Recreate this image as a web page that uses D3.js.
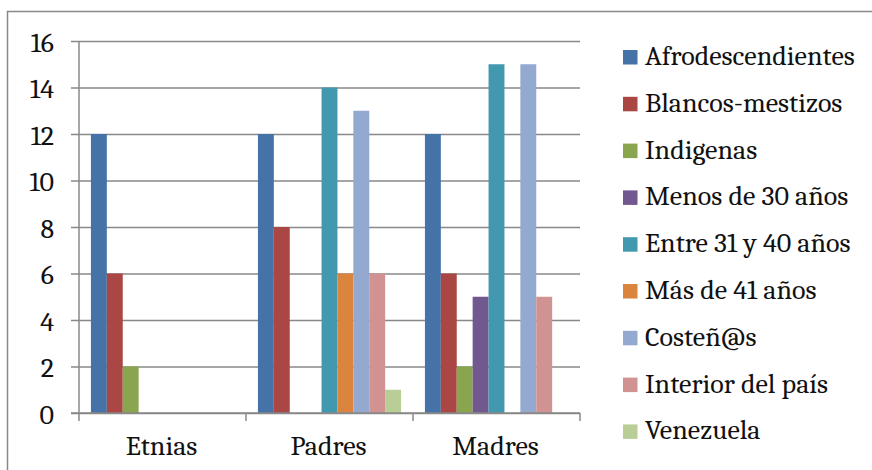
<!DOCTYPE html>
<html>
<head>
<meta charset="utf-8">
<script src="https://cdn.jsdelivr.net/npm/d3@7"></script>
<style>
  html, body { margin: 0; padding: 0; background: #fff; }
  svg { display: block; }
</style>
</head>
<body>
<svg id="chart" width="872" height="470"></svg>
<script>
// Groups along the x axis
const categories = ["Etnias", "Padres", "Madres"];

// One series per legend entry
const seriesNames = [
  "Afrodescendientes", "Blancos-mestizos", "Indigenas", "Menos de 30 años",
  "Entre 31 y 40 años", "Más de 41 años", "Costeñ@s", "Interior del país", "Venezuela"
];

// Counts per series, in the order of categories
const afrodescendientes = [12, 12, 12];
const blancosMestizos   = [6, 8, 6];
const indigenas         = [2, 0, 2];
const menos30           = [0, 0, 5];
const entre31y40        = [0, 14, 15];
const mas41             = [0, 6, 0];
const costenos          = [0, 13, 15];
const interiorPais      = [0, 6, 5];
const venezuela         = [0, 1, 0];

const yTicks = [0, 2, 4, 6, 8, 10, 12, 14, 16];

const colors = ["#4572A7", "#AA4643", "#89A54E", "#71588F", "#4198AF",
                "#DB843D", "#93A9CF", "#D19392", "#B9CD96"];

const seriesValues = [afrodescendientes, blancosMestizos, indigenas, menos30,
                      entre31y40, mas41, costenos, interiorPais, venezuela];

const FONT = "Cambria, 'Liberation Serif', serif";
const FONT_SIZE = 28;
const textColor = "#111111";

const svg = d3.select("#chart");
const plot = { left: 79, right: 580, top: 41, bottom: 413 };
const gridColor = "#888888";

// Outer frame of the chart area
svg.append("rect")
  .attr("x", 7.5).attr("y", 11.5)
  .attr("width", 900).attr("height", 500)
  .attr("fill", "none").attr("stroke", gridColor).attr("stroke-width", 1.5);

const x0 = d3.scaleBand().domain(categories).range([plot.left, plot.right])
  .paddingInner(0).paddingOuter(0);
const x1 = d3.scaleBand().domain(seriesNames).range([0, x0.bandwidth()])
  .paddingInner(0).paddingOuter(0.75);
const y = d3.scaleLinear().domain([0, 16]).range([plot.bottom, plot.top]);

// Horizontal gridlines with left tick marks
const yAxis = d3.axisLeft(y).tickValues(yTicks)
  .tickSize(-(plot.right - plot.left)).tickPadding(25).tickFormat(d3.format("d"));
const gy = svg.append("g").attr("transform", `translate(${plot.left},0)`).call(yAxis);
gy.select(".domain").remove();
gy.selectAll(".tick line")
  .attr("x1", -8)
  .attr("stroke", gridColor).attr("stroke-width", 1.5);
gy.selectAll(".tick text")
  .attr("font-family", FONT).attr("font-size", FONT_SIZE)
  .attr("fill", textColor).attr("dy", "0.37em");

// Bars
const groups = svg.append("g").selectAll("g")
  .data(categories)
  .join("g")
  .attr("transform", d => `translate(${x0(d)},0)`);

groups.selectAll("rect")
  .data((c, ci) => seriesNames.map((s, si) => ({ s, si, v: seriesValues[si][ci] })))
  .join("rect")
  .filter(d => d.v > 0)
  .attr("x", d => x1(d.s))
  .attr("width", x1.bandwidth())
  .attr("y", d => y(d.v))
  .attr("height", d => y(0) - y(d.v))
  .attr("fill", d => colors[d.si]);

// Vertical axis line
svg.append("line")
  .attr("x1", plot.left).attr("x2", plot.left)
  .attr("y1", plot.top).attr("y2", plot.bottom)
  .attr("stroke", gridColor).attr("stroke-width", 1.5);

// Category axis with boundary ticks
const bounds = categories.map(c => x0(c)).concat([plot.right]);
svg.append("line")
  .attr("x1", plot.left - 8).attr("x2", plot.right)
  .attr("y1", plot.bottom).attr("y2", plot.bottom)
  .attr("stroke", gridColor).attr("stroke-width", 1.5);
svg.append("g").selectAll("line")
  .data(bounds)
  .join("line")
  .attr("x1", d => d).attr("x2", d => d)
  .attr("y1", plot.bottom).attr("y2", plot.bottom + 8)
  .attr("stroke", gridColor).attr("stroke-width", 1.5);
svg.append("g").selectAll("text")
  .data(categories)
  .join("text")
  .attr("x", d => x0(d) + x0.bandwidth() / 2 - 1)
  .attr("y", 455)
  .attr("text-anchor", "middle")
  .attr("font-family", FONT).attr("font-size", FONT_SIZE).attr("fill", textColor)
  .text(d => d);

// Legend
const legend = svg.append("g").selectAll("g")
  .data(seriesNames)
  .join("g")
  .attr("transform", (d, i) => `translate(623,${57.5 + i * 46.8})`);
legend.append("rect")
  .attr("x", 0).attr("y", -7.5).attr("width", 14.5).attr("height", 14.5)
  .attr("fill", (d, i) => colors[i]);
legend.append("text")
  .attr("x", 22).attr("y", 7.5)
  .attr("font-family", FONT).attr("font-size", FONT_SIZE).attr("fill", textColor)
  .text(d => d);
</script>
</body>
</html>
